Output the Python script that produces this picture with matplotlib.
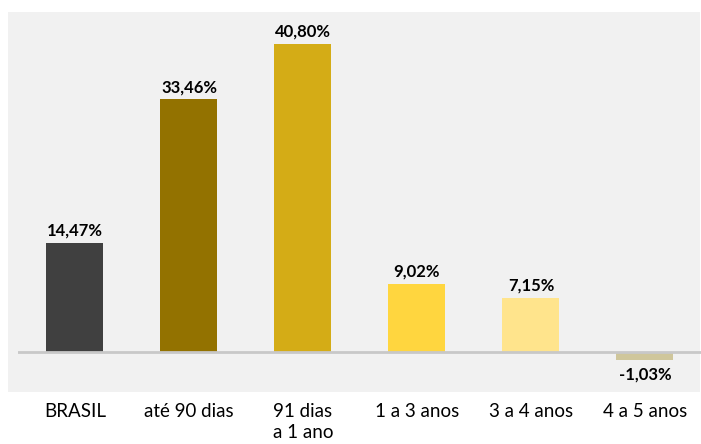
import matplotlib
matplotlib.use("Agg")
import matplotlib.pyplot as plt
from matplotlib.patches import Rectangle

plt.rcParams["font.family"] = ["Lato", "DejaVu Sans"]

categories = ["BRASIL", "até 90 dias", "91 dias\na 1 ano", "1 a 3 anos", "3 a 4 anos", "4 a 5 anos"]
values = [14.47, 33.46, 40.80, 9.02, 7.15, -1.03]
labels = ["14,47%", "33,46%", "40,80%", "9,02%", "7,15%", "-1,03%"]
colors = ["#404040", "#937200", "#d4ac16", "#ffd63f", "#ffe48c", "#cfc69b"]

W, H = 701, 444
fig = plt.figure(figsize=(W / 100, H / 100), dpi=100)

# gray panel behind the plot
fig.patches.append(Rectangle((8 / W, 1 - 392 / H), (700 - 8) / W, (392 - 12) / H,
                             transform=fig.transFigure, facecolor="#f1f1f1",
                             edgecolor="none", zorder=-1))

# axes: x from 18 to 702 px, y from 12 to 392 px
ax = fig.add_axes([18 / W, 1 - 392 / H, (702 - 18) / W, (392 - 12) / H])
ax.patch.set_alpha(0)
ax.set_zorder(1)
x = list(range(len(categories)))
ax.bar(x, values, width=0.5, color=colors, zorder=2)
ax.set_xlim(-0.5, len(categories) - 0.5)
ax.set_ylim(-5.30, 45.03)
ax.axhline(0, color="#c8c8c8", linewidth=2, zorder=3)

for xi, v, lab in zip(x, values, labels):
    if v >= 0:
        ax.annotate(lab, (xi, v), xytext=(0, 3), textcoords="offset points",
                    ha="center", va="bottom", fontsize=12, fontweight="bold")
    else:
        ax.annotate(lab, (xi, v), xytext=(0, -5), textcoords="offset points",
                    ha="center", va="top", fontsize=12, fontweight="bold")

for xi, cat in zip(x, categories):
    ax.text(xi, -11 / 380, cat, transform=ax.get_xaxis_transform(),
            ha="center", va="top", fontsize=13.5, linespacing=1.25)

ax.set_xticks([])
ax.set_yticks([])
for s in ax.spines.values():
    s.set_visible(False)

fig.savefig("out.png", dpi=100)
